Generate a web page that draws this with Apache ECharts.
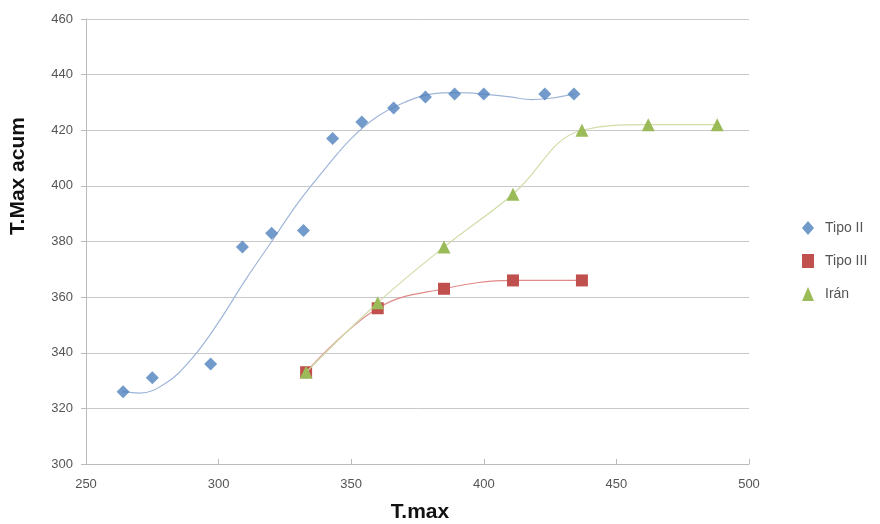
<!DOCTYPE html>
<html>
<head>
<meta charset="utf-8">
<script src="https://cdn.jsdelivr.net/npm/echarts@6/dist/echarts.min.js"></script>
<style>
  html, body { margin: 0; padding: 0; background: #fff; }
  #chart { width: 880px; height: 524px; }
</style>
</head>
<body>
<div id="chart"></div>
<script>
// datos
const tipoII = [[264, 326], [275, 331], [297, 336], [309, 378], [320, 383], [332, 384], [343, 417],
  [354, 423], [366, 428], [378, 432], [389, 433], [400, 433], [423, 433], [434, 433]]
const tipoIII = [[333, 333], [360, 356], [385, 363], [411, 366], [437, 366]]
const iran = [[333, 333], [360, 358], [385, 378], [411, 397], [437, 420], [462, 422], [488, 422]]
// línea de tendencia de Tipo II
const tipoIITrend = [[264, 326], [270, 325.5], [280, 329], [290, 338], [300, 351], [310, 366],
  [320, 380], [330, 394], [340, 406], [350, 417], [360, 425], [370, 430], [380, 433], [390, 433.5],
  [400, 433], [410, 432], [418, 431], [425, 431.5], [434, 433]]

const font = 'Liberation Sans'
const chart = echarts.init(document.getElementById('chart'))

chart.setOption({
  animation: false,
  textStyle: { fontFamily: font },
  grid: { left: 86, right: 131, top: 19, bottom: 60 },
  graphic: [
    {
      type: 'text', x: 8, y: 176, rotation: Math.PI / 2,
      style: { text: 'T.Max acum', font: 'bold 21px ' + font, fill: '#111', align: 'center', verticalAlign: 'top' }
    },
    {
      type: 'text', x: 420, y: 512,
      style: { text: 'T.max', font: 'bold 21px ' + font, fill: '#111', align: 'center', verticalAlign: 'middle' }
    }
  ],
  legend: {
    orient: 'vertical',
    left: 797,
    top: 216,
    itemGap: 19,
    itemWidth: 12,
    itemHeight: 14,
    textStyle: { color: '#555', fontSize: 14, fontFamily: font, padding: [0, 0, 0, 6] },
    data: [
      { name: 'Tipo II', icon: 'diamond' },
      { name: 'Tipo III', icon: 'rect' },
      { name: 'Irán', icon: 'triangle' }
    ]
  },
  xAxis: {
    type: 'value',
    min: 250, max: 500, interval: 50,
    axisLine: { lineStyle: { color: '#bbb' } },
    axisTick: { show: true, inside: true, length: 5, lineStyle: { color: '#bbb' } },
    axisLabel: { color: '#555', fontSize: 13, margin: 14 },
    splitLine: { show: false }
  },
  yAxis: {
    type: 'value',
    min: 300, max: 460, interval: 20,
    axisLine: { show: true, lineStyle: { color: '#bbb' } },
    axisTick: { show: true, length: 5, lineStyle: { color: '#bbb' } },
    axisLabel: { color: '#555', fontSize: 13, margin: 13 },
    splitLine: { lineStyle: { color: '#c8c8c8' } }
  },
  series: [
    {
      name: 'tendencia II',
      type: 'line',
      data: tipoIITrend,
      smooth: 0.4,
      showSymbol: false,
      silent: true,
      lineStyle: { color: '#9fb6d9', width: 1.2 },
      z: 1
    },
    {
      name: 'Tipo III',
      type: 'line',
      data: tipoIII,
      smooth: 0.4,
      symbol: 'rect',
      symbolSize: 12,
      itemStyle: { color: '#c0504d' },
      lineStyle: { color: '#e08a88', width: 1.2 },
      z: 2
    },
    {
      name: 'Irán',
      type: 'line',
      data: iran,
      smooth: 0.4,
      symbol: 'triangle',
      symbolSize: 13,
      itemStyle: { color: '#9bbb59' },
      lineStyle: { color: '#cfdda8', width: 1.2 },
      z: 3
    },
    {
      name: 'Tipo II',
      type: 'scatter',
      data: tipoII,
      symbol: 'diamond',
      symbolSize: [13, 13],
      itemStyle: { color: '#4f81bd' },
      z: 4
    }
  ]
})
</script>
</body>
</html>
